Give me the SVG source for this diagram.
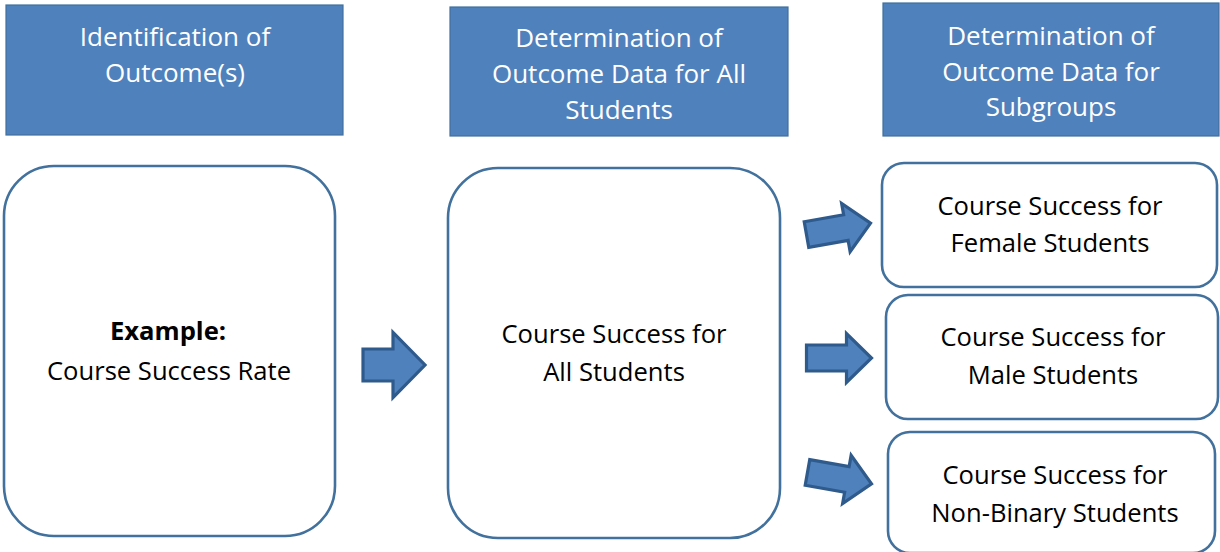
<svg xmlns="http://www.w3.org/2000/svg" width="1220" height="552" viewBox="0 0 1220 552">
  <style>
    .hdr { fill: #4F81BD; stroke: #41719C; stroke-width: 1.2; }
    .hdr-t { font-family: "Open Sans", "Liberation Sans", sans-serif; font-size: 26px; fill: #FFFFFF; text-anchor: middle; }
    .box { fill: #FFFFFF; stroke: #41719C; stroke-width: 2.6; }
    .box-t { font-family: "Open Sans", "Liberation Sans", sans-serif; font-size: 25.6px; fill: #000000; text-anchor: middle; }
    .bold { font-weight: bold; }
    .arrow { fill: #4F81BD; stroke: #2F5A8C; stroke-width: 3.2; stroke-linejoin: miter; }
  </style>
  <defs>
    <path id="arrow-small" d="M-32,-13 H8 V-24.5 L33,0 L8,24.5 V13 H-32 Z"/>
    <path id="arrow-large" d="M-31,-16 H-1 V-32.5 L31,0 L-1,32.5 V16 H-31 Z"/>
  </defs>
  <rect width="1220" height="552" fill="#FFFFFF"/>

  <!-- column headers -->
  <g id="header-outcomes">
    <rect class="hdr" x="6" y="5" width="337" height="130"/>
    <text class="hdr-t" x="175" y="46">Identification of</text>
    <text class="hdr-t" x="175" y="82">Outcome(s)</text>
  </g>
  <g id="header-all-students">
    <rect class="hdr" x="450" y="7" width="338" height="129"/>
    <text class="hdr-t" x="619" y="47">Determination of</text>
    <text class="hdr-t" x="619" y="83">Outcome Data for All</text>
    <text class="hdr-t" x="619" y="119">Students</text>
  </g>
  <g id="header-subgroups">
    <rect class="hdr" x="883" y="3" width="336" height="133"/>
    <text class="hdr-t" x="1051" y="45">Determination of</text>
    <text class="hdr-t" x="1051" y="81">Outcome Data for</text>
    <text class="hdr-t" x="1051" y="116">Subgroups</text>
  </g>

  <!-- content boxes -->
  <g id="example">
    <rect class="box" x="4" y="166" width="331" height="370" rx="50" ry="50"/>
    <text class="box-t bold" x="168" y="340">Example:</text>
    <text class="box-t" x="169" y="380">Course Success Rate</text>
  </g>
  <g id="all-students">
    <rect class="box" x="448" y="168" width="332" height="370" rx="50" ry="50"/>
    <text class="box-t" x="614" y="343">Course Success for</text>
    <text class="box-t" x="614" y="381">All Students</text>
  </g>
  <g id="female">
    <rect class="box" x="882" y="163" width="335" height="124" rx="22" ry="22"/>
    <text class="box-t" x="1050" y="215">Course Success for</text>
    <text class="box-t" x="1050" y="252">Female Students</text>
  </g>
  <g id="male">
    <rect class="box" x="886" y="295" width="332" height="124" rx="22" ry="22"/>
    <text class="box-t" x="1053" y="346">Course Success for</text>
    <text class="box-t" x="1053" y="384">Male Students</text>
  </g>
  <g id="non-binary">
    <rect class="box" x="888" y="432" width="327" height="121" rx="22" ry="22"/>
    <text class="box-t" x="1055" y="484">Course Success for</text>
    <text class="box-t" x="1055" y="522">Non-Binary Students</text>
  </g>

  <!-- block arrows -->
  <g id="connectors">
    <use href="#arrow-large" class="arrow" transform="translate(394,365)"/>
    <use href="#arrow-small" class="arrow" transform="translate(838,229) rotate(-10)"/>
    <use href="#arrow-small" class="arrow" transform="translate(838.5,358)"/>
    <use href="#arrow-small" class="arrow" transform="translate(839,478) rotate(10)"/>
  </g>
</svg>
